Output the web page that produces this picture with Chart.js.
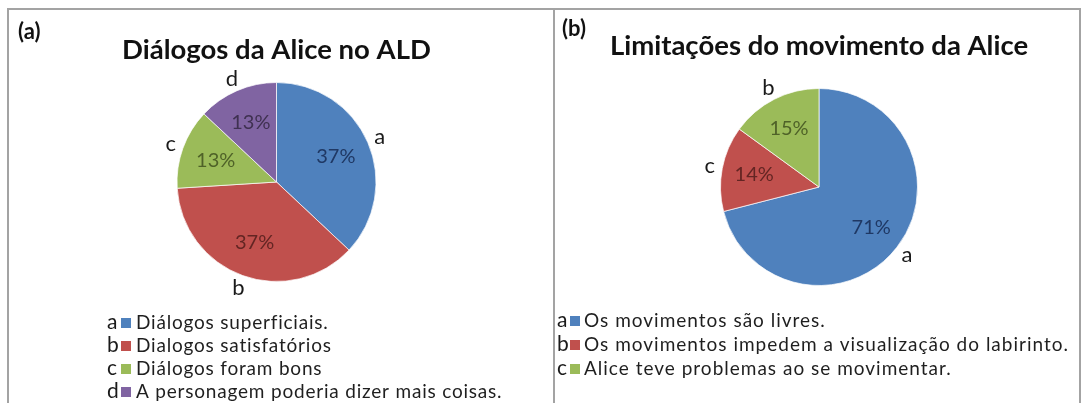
<!DOCTYPE html>
<html>
<head>
<meta charset="utf-8">
<script src="https://cdn.jsdelivr.net/npm/chart.js@4.4.0/dist/chart.umd.min.js"></script>
<style>
  body { margin: 0; background: #fff; }
  #page { position: relative; width: 1083px; height: 403px; overflow: hidden; background: #fff; }
  #frame { position: absolute; left: 7px; top: 8px; width: 1070px; height: 400px; border: 2px solid #a3a3a3; border-bottom: none; }
  #divider { position: absolute; left: 553px; top: 8px; width: 2px; height: 400px; background: #a3a3a3; }
  #chartA { position: absolute; left: 0; top: 0; }
  #chartB { position: absolute; left: 555px; top: 0; }
</style>
</head>
<body>
<div id="page">
  <div id="frame"></div>
  <div id="divider"></div>
  <canvas id="chartA" width="553" height="403"></canvas>
  <canvas id="chartB" width="528" height="403"></canvas>
</div>
<script>
// chart (a)
const labelsA = ['Diálogos superficiais.', 'Dialogos satisfatórios', 'Diálogos foram bons', 'A personagem poderia dizer mais coisas.'];
const valuesA = [37, 37, 13, 13];
const lettersA = ['a', 'b', 'c', 'd'];

// chart (b) - slice letters are as printed on the pie
const labelsB = ['Os movimentos são livres.', 'Os movimentos impedem a visualização do labirinto.', 'Alice teve problemas ao se movimentar.'];
const valuesB = [71, 14, 15];
const sliceLettersB = ['a', 'c', 'b'];
const legendLettersB = ['a', 'b', 'c'];

const colors = ['#4f81bd', '#c0504d', '#9bbb59', '#8064a2'];
const darkColors = ['#1f3864', '#632523', '#4f6228', '#3f3151'];

// percent inside, letter outside each slice
const sliceLabels = {
    id: 'sliceLabels',
    afterDatasetsDraw(chart, args, opts) {
        let ctx = chart.ctx;
        let meta = chart.getDatasetMeta(0);
        let data = chart.data.datasets[0].data;
        let total = data.reduce((s, v) => s + v, 0);
        ctx.save();
        ctx.textAlign = 'center';
        ctx.textBaseline = 'middle';
        meta.data.forEach((arc, i) => {
            let p = arc.getProps(['x', 'y', 'startAngle', 'endAngle', 'outerRadius'], true);
            let mid = (p.startAngle + p.endAngle) / 2;
            let r1 = p.outerRadius * opts.inner;
            ctx.font = opts.pctFont;
            ctx.fillStyle = darkColors[i];
            ctx.fillText(Math.round(data[i] / total * 100) + '%', p.x + Math.cos(mid) * r1, p.y + Math.sin(mid) * r1);
            let r2 = p.outerRadius * opts.outer;
            ctx.font = opts.letterFont;
            ctx.fillStyle = '#1a1a1a';
            ctx.fillText(opts.letters[i], p.x + Math.cos(mid) * r2, p.y + Math.sin(mid) * r2);
        });
        ctx.restore();
    }
};

// panel tag and the lettered legend
const panelText = {
    id: 'panelText',
    afterDraw(chart, args, opts) {
        let ctx = chart.ctx;
        ctx.save();
        ctx.textBaseline = 'middle';
        ctx.textAlign = 'left';
        ctx.fillStyle = '#111';
        ctx.font = 'bold 22px Lato';
        ctx.fillText(opts.tag, opts.tagX, opts.tagY);
        opts.items.forEach((text, i) => {
            let y = opts.y0 + i * opts.dy;
            ctx.letterSpacing = '0px';
            ctx.font = '21px Lato';
            ctx.fillStyle = '#1a1a1a';
            ctx.fillText(opts.letters[i], opts.letterX, y);
            ctx.fillStyle = colors[i];
            ctx.fillRect(opts.boxX, y - 4, 10, 10);
            ctx.font = opts.font;
            ctx.letterSpacing = opts.spacing;
            ctx.fillStyle = '#1f1f1f';
            ctx.fillText(text, opts.textX, y + 1);
        });
        ctx.restore();
    }
};

function makePie(id, labels, values, title, pad, titlePad, sliceOpts, textOpts) {
    let ctx = document.getElementById(id).getContext('2d');
    return new Chart(ctx, {
        type: 'pie',
        data: {
            labels: labels,
            datasets: [{
                data: values,
                backgroundColor: colors.slice(0, values.length),
                borderColor: 'rgba(255, 255, 255, 0.7)',
                borderWidth: 1
            }]
        },
        options: {
            responsive: false,
            animation: false,
            devicePixelRatio: 1,
            layout: { padding: pad },
            plugins: {
                legend: { display: false },
                tooltip: { enabled: false },
                title: {
                    display: true,
                    text: title,
                    color: '#111',
                    font: { family: 'Lato', size: 27.5, weight: 'bold', lineHeight: 1.2 },
                    padding: titlePad
                },
                sliceLabels: sliceOpts,
                panelText: textOpts
            }
        },
        plugins: [sliceLabels, panelText]
    });
}

makePie('chartA', labelsA, valuesA, 'Diálogos da Alice no ALD',
    { left: 0, right: 0, top: 0, bottom: 121 },
    { top: 33.5, bottom: 15.5 },
    { inner: 0.65, outer: 1.13, letters: lettersA, pctFont: '20px Lato', letterFont: '22px Lato' },
    { tag: '(a)', tagX: 18, tagY: 32, items: labelsA, letters: lettersA,
      letterX: 107, boxX: 121, textX: 136, y0: 322, dy: 23, font: '19px Lato', spacing: '0.8px' });

makePie('chartB', labelsB, valuesB, 'Limitações do movimento da Alice',
    { left: 0, right: 0, top: 0, bottom: 117 },
    { top: 29.5, bottom: 25.5 },
    { inner: 0.67, outer: 1.13, letters: sliceLettersB, pctFont: '20px Lato', letterFont: '22px Lato' },
    { tag: '(b)', tagX: 7, tagY: 29, items: labelsB, letters: legendLettersB,
      letterX: 2, boxX: 15, textX: 29, y0: 320, dy: 24, font: '19px Lato', spacing: '1px' });
</script>
</body>
</html>
